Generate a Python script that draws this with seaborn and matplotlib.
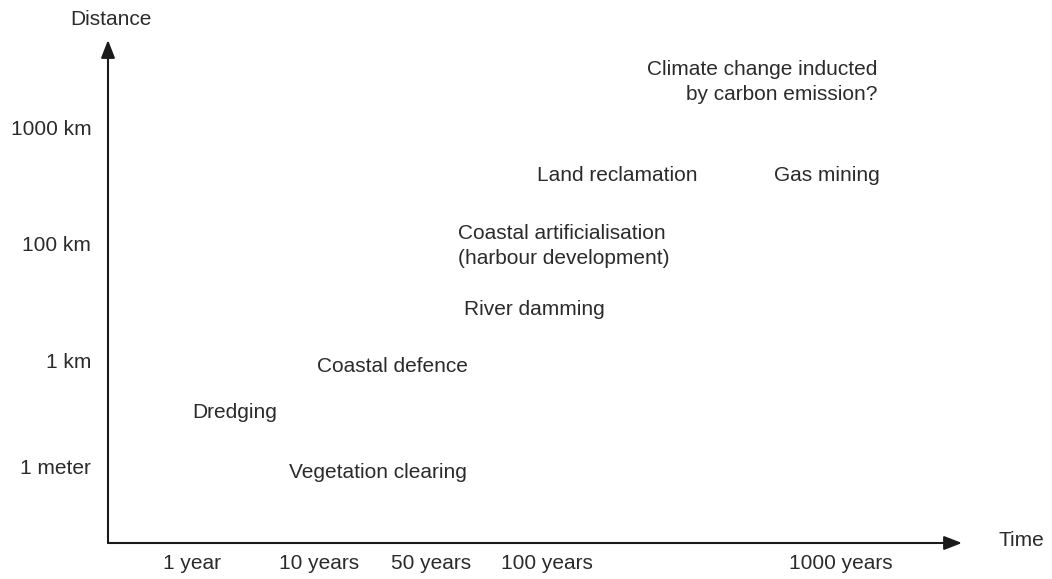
import matplotlib
matplotlib.use("Agg")
import matplotlib.pyplot as plt
import seaborn as sns

# time scale (x) and distance scale (y), positions along the axes
time_labels = ["1 year", "10 years", "50 years", "100 years", "1000 years"]
time_pos = [0.84, 2.11, 3.23, 4.39, 7.33]
dist_labels = ["1 meter", "1 km", "100 km", "1000 km"]
dist_pos = [0.76, 1.83, 3.00, 4.16]

# human activities placed on the time/distance plane
activities = ["Vegetation clearing", "Dredging", "Coastal defence", "River damming",
              "Coastal artificialisation\n(harbour development)", "Land reclamation",
              "Gas mining", "Climate change inducted\nby carbon emission?"]
act_time = [2.70, 1.27, 2.84, 4.26, 3.50, 5.09, 7.19, 7.69]
act_dist = [0.71, 1.30, 1.77, 2.34, 2.97, 3.68, 3.68, 4.61]
act_align = ["center", "center", "center", "center", "left", "center", "center", "right"]

sns.set_theme(style="white")
plt.rcParams["font.family"] = ["Liberation Sans", "DejaVu Sans"]
txt = "#2b2b2b"

fig = plt.figure(figsize=(10.52, 5.79), dpi=100)
ax = fig.add_axes([108 / 1052, 36 / 579, 854 / 1052, 503 / 579])
ax.set_xlim(0, 8.54)
ax.set_ylim(0, 5.03)
sns.despine(ax=ax, left=True, bottom=True)

arrow = dict(arrowstyle="-|>,head_length=0.9,head_width=0.35", color="#1a1a1a", lw=1.5,
             shrinkA=0, shrinkB=0)
ax.annotate("", xy=(1, 0), xytext=(0, 0), xycoords="axes fraction", arrowprops=arrow)
ax.annotate("", xy=(0, 1), xytext=(0, 0), xycoords="axes fraction", arrowprops=arrow)

ax.set_xticks(time_pos)
ax.set_xticklabels(time_labels)
ax.set_yticks(dist_pos)
ax.set_yticklabels(dist_labels)
ax.tick_params(axis="both", length=0, labelsize=15, labelcolor=txt)
ax.tick_params(axis="x", pad=8)
ax.tick_params(axis="y", pad=12)

for name, t, d, ha in zip(activities, act_time, act_dist, act_align):
    ax.text(t, d, name, ha=ha, va="center", fontsize=15, color=txt, linespacing=1.35,
            multialignment=ha)

ax.text(0.004, 1.04, "Distance", transform=ax.transAxes, ha="center", va="center",
        fontsize=15, color=txt)
ax.text(1.043, 0.005, "Time", transform=ax.transAxes, ha="left", va="center",
        fontsize=15, color=txt)

fig.savefig("out.png", dpi=100)
